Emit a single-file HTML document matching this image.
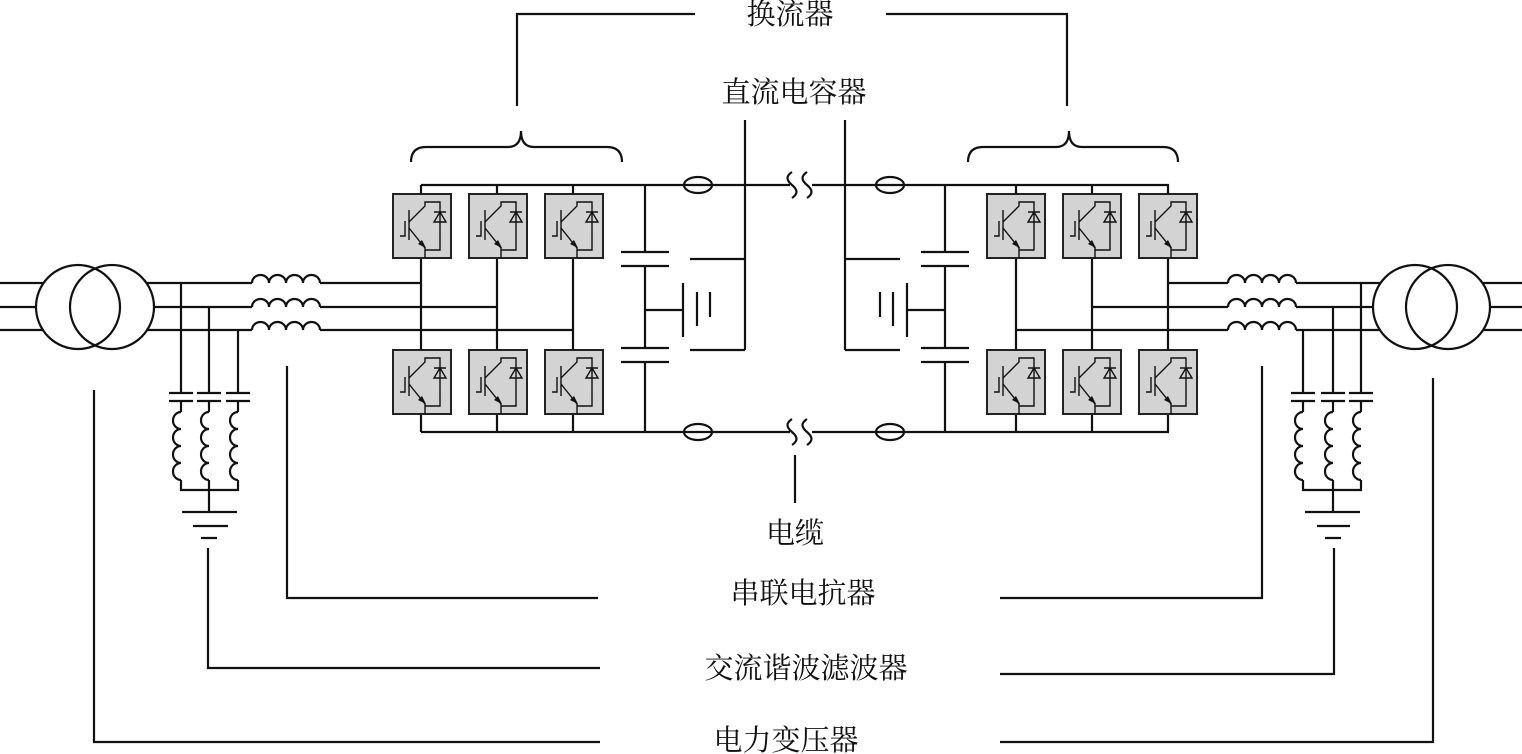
<!DOCTYPE html>
<html><head><meta charset="utf-8"><style>
html,body{margin:0;padding:0;background:#fff;}
svg{display:block;}
text{font-family:"Liberation Serif","Noto Serif CJK SC",serif;font-size:29px;fill:#111;text-anchor:middle;}
</style></head><body>
<svg width="1522" height="754" viewBox="0 0 1522 754" xmlns="http://www.w3.org/2000/svg">
<defs>
<g id="m">
<rect x="0" y="0" width="58" height="64" fill="#d3d3d3" stroke="#222" stroke-width="2"/>
<g fill="none" stroke="#111" stroke-width="1.4">
<path d="M16,16 V46 M12,27 V42 H7"/>
<path d="M16,28 L32,12 V8 H47 V56 H32 V64 M16,34 L32,54 V56"/>
<path d="M41,28 H53 L47,18 Z M41,18 H53"/>
<path d="M29,0 V-1"/>
</g>
<path d="M33,54 L25,50 L29,46 Z" fill="#111"/>
</g>
<g id="hind" fill="none" stroke="#111" stroke-width="2.2">
<path d="M0,0 a8.5,8 0 0 1 17,0 a8.5,8 0 0 1 17,0 a8.5,8 0 0 1 17,0 a8.5,8 0 0 1 17,0"/>
</g>
<g id="vind" fill="none" stroke="#111" stroke-width="2.2">
<path d="M0,0 a8,8.5 0 0 0 0,17 a8,8.5 0 0 0 0,17 a8,8.5 0 0 0 0,17 a8,8.5 0 0 0 0,17"/>
</g>
</defs>

<g fill="none" stroke="#111" stroke-width="2.2">
<!-- left AC lines -->
<path d="M0,283 H44 M146,283 H252 M320,283 H421"/>
<path d="M0,307 H36 M154,307 H252 M320,307 H497"/>
<path d="M0,330 H44 M146,330 H252 M320,330 H573"/>
<circle cx="78" cy="307" r="42"/>
<circle cx="112" cy="307" r="42"/>
<!-- left filter -->
<path d="M181,283 V393 M209,307 V393 M238,330 V393"/>
<path d="M169,393 H193 M169,401 H193 M197,393 H221 M197,401 H221 M226,393 H250 M226,401 H250"/>
<path d="M181,401 V412 M209,401 V412 M238,401 V412"/>
<path d="M181,480 V490 H238 V480 M209,480 V512"/>
<path d="M182,512 H237 M193,526 H228 M201,538 H217"/>
<!-- right AC lines -->
<path d="M1169,283 H1228 M1296,283 H1381 M1483,283 H1522"/>
<path d="M1092,307 H1228 M1296,307 H1373 M1490,307 H1522"/>
<path d="M1016,330 H1228 M1296,330 H1381 M1483,330 H1522"/>
<circle cx="1415" cy="307" r="42"/>
<circle cx="1448" cy="307" r="42"/>
<!-- right filter -->
<path d="M1303,330 V393 M1333,307 V393 M1361,283 V393"/>
<path d="M1291,393 H1315 M1291,401 H1315 M1321,393 H1345 M1321,401 H1345 M1349,393 H1373 M1349,401 H1373"/>
<path d="M1303,401 V412 M1333,401 V412 M1361,401 V412"/>
<path d="M1303,480 V490 H1361 V480 M1333,480 V512"/>
<path d="M1305,512 H1360 M1317,526 H1350 M1325,538 H1341"/>

<!-- left DC -->
<path d="M421,185 H790 M812,185 H1169 M421,432 H790 M812,432 H1169"/>
<path d="M421,185 V194 M497,185 V194 M573,185 V194 M421,258 V350 M497,258 V350 M573,258 V350 M421,415 V432 M497,415 V432 M573,415 V432"/>
<path d="M645,185 V252 M621,252 H669 M621,266 H669 M645,266 V348 M621,348 H669 M621,362 H669 M645,362 V432"/>
<path d="M645,310 H683 M683,283 V337 M697,292 V326 M710,292 V317"/>
<path d="M690,259 H745 M690,350 H745 M745,120 V350"/>
<ellipse cx="698" cy="185" rx="14" ry="8"/>
<ellipse cx="698" cy="432" rx="14" ry="8"/>
<!-- right DC -->
<path d="M1016,185 V194 M1092,185 V194 M1168,185 V194 M1016,258 V350 M1092,258 V350 M1168,258 V350 M1016,415 V432 M1092,415 V432 M1168,415 V432"/>
<path d="M945,185 V252 M921,252 H969 M921,266 H969 M945,266 V348 M921,348 H969 M921,362 H969 M945,362 V432"/>
<path d="M945,310 H907 M907,283 V337 M893,292 V326 M880,292 V317"/>
<path d="M900,259 H845 M900,350 H845 M845,120 V350"/>
<ellipse cx="890" cy="185" rx="14" ry="8"/>
<ellipse cx="890" cy="432" rx="14" ry="8"/>
<!-- breaks -->
<path d="M792,172 c-6,4 -6,8 0,13 c6,5 6,9 0,13 M807,172 c-6,4 -6,8 0,13 c6,5 6,9 0,13"/>
<path d="M792,419 c-6,4 -6,8 0,13 c6,5 6,9 0,13 M807,419 c-6,4 -6,8 0,13 c6,5 6,9 0,13"/>

<!-- braces and leaders -->
<path d="M411,162 Q411,147 426,147 H508 Q521,147 521,131 Q521,147 534,147 H607 Q622,147 622,162"/>
<path d="M968,162 Q968,147 983,147 H1056 Q1069,147 1069,131 Q1069,147 1082,147 H1163 Q1178,147 1178,162"/>
<path d="M517,106 V14 H695 M886,14 H1067 V106"/>
<path d="M795,455 V503"/>
<path d="M287,366 V598 H598 M1000,598 H1262 V366"/>
<path d="M208,548 V668 H600 M1000,674 H1334 V548"/>
<path d="M94,390 V742 H600 M1000,742 H1433 V378"/>
</g>

<use href="#hind" x="252" y="283"/><use href="#hind" x="252" y="307"/><use href="#hind" x="252" y="330"/>
<use href="#hind" x="1228" y="283"/><use href="#hind" x="1228" y="307"/><use href="#hind" x="1228" y="330"/>
<use href="#vind" x="181" y="412"/><use href="#vind" x="209" y="412"/><use href="#vind" x="238" y="412"/>
<use href="#vind" x="1303" y="412"/><use href="#vind" x="1333" y="412"/><use href="#vind" x="1361" y="412"/>

<use href="#m" x="393" y="194"/><use href="#m" x="469" y="194"/><use href="#m" x="545" y="194"/>
<use href="#m" x="393" y="350"/><use href="#m" x="469" y="350"/><use href="#m" x="545" y="350"/>
<use href="#m" x="987" y="194"/><use href="#m" x="1063" y="194"/><use href="#m" x="1139" y="194"/>
<use href="#m" x="987" y="350"/><use href="#m" x="1063" y="350"/><use href="#m" x="1139" y="350"/>

<text x="790" y="24">换流器</text>
<text x="794" y="102">直流电容器</text>
<text x="795" y="543">电缆</text>
<text x="803" y="603">串联电抗器</text>
<text x="806" y="678">交流谐波滤波器</text>
<text x="786" y="750">电力变压器</text>
</svg>
</body></html>
